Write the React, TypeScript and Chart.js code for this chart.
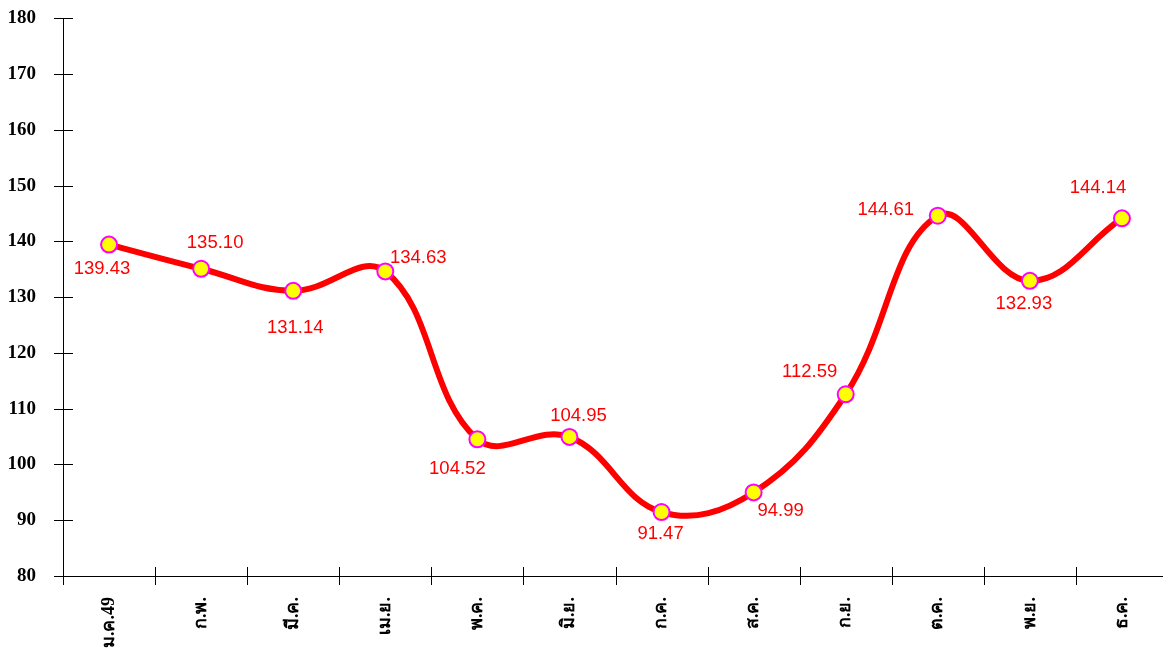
import React, { useEffect, useRef } from "react";
import { Chart, registerables } from "chart.js";

Chart.register(...registerables);

const months = ["ม.ค.49", "ก.พ.", "มี.ค.", "เม.ย.", "พ.ค.", "มิ.ย.", "ก.ค.", "ส.ค.", "ก.ย.", "ต.ค.", "พ.ย.", "ธ.ค."];
const prices = [139.43, 135.10, 131.14, 134.63, 104.52, 104.95, 91.47, 94.99, 112.59, 144.61, 132.93, 144.14];
const yMin = 80;
const yMax = 180;
const yStep = 10;

// label offsets (px) relative to each point – styling only
const labelDx = [-7, 14, 2, 33, -20, 9, -1, 27, -36, -52, -6, -24];
const labelDy = [24, -26, 37, -13, 30, -21, 22, 18, -22, -6, 23, -30];

const W = 1178;
const H = 675;
const SHIFT_Y = -20;

const axisTicksPlugin = {
  id: "axisTicks",
  afterDraw(chart: any) {
    const ctx = chart.ctx;
    const y = chart.scales.y;
    const area = chart.chartArea;
    ctx.save();
    ctx.strokeStyle = "#000000";
    ctx.lineWidth = 1;
    ctx.beginPath();
    ctx.moveTo(Math.round(area.left) + 0.5, area.top);
    ctx.lineTo(Math.round(area.left) + 0.5, area.bottom);
    ctx.moveTo(area.left, Math.round(area.bottom) + 0.5);
    ctx.lineTo(area.right, Math.round(area.bottom) + 0.5);
    ctx.stroke();
    ctx.beginPath();
    for (let v = yMin; v <= yMax; v += yStep) {
      const py = Math.round(y.getPixelForValue(v)) + 0.5;
      ctx.moveTo(area.left - 9, py);
      ctx.lineTo(area.left + 10, py);
    }
    const n = months.length;
    const w = (area.right - area.left) / n;
    for (let i = 0; i <= n; i++) {
      const px = Math.round(area.left + i * w) + 0.5;
      ctx.moveTo(px, area.bottom - 9);
      ctx.lineTo(px, area.bottom + 9);
    }
    ctx.stroke();
    ctx.restore();
  },
};

const valueLabelPlugin = {
  id: "valueLabels",
  afterDatasetsDraw(chart: any) {
    const ctx = chart.ctx;
    const meta = chart.getDatasetMeta(0);
    ctx.save();
    ctx.font = '18.5px "Liberation Sans", Arial, sans-serif';
    ctx.fillStyle = "#ff0000";
    ctx.textAlign = "center";
    ctx.textBaseline = "middle";
    meta.data.forEach((pt: any, i: number) => {
      ctx.fillText(prices[i].toFixed(2), pt.x + labelDx[i], pt.y + labelDy[i]);
    });
    ctx.restore();
  },
};

export default function App() {
  const ref = useRef<HTMLCanvasElement | null>(null);

  useEffect(() => {
    if (!ref.current) return;
    const chart = new Chart(ref.current, {
      type: "line",
      data: {
        labels: months,
        datasets: [
          {
            data: prices,
            borderColor: "#ff0000",
            borderWidth: 6,
            tension: 0.4,
            pointRadius: 8,
            pointHoverRadius: 8,
            pointBackgroundColor: "#ffff00",
            pointBorderColor: "#ff00ff",
            pointBorderWidth: 2,
            fill: false,
          },
        ],
      },
      options: {
        responsive: false,
        animation: false,
        devicePixelRatio: 1,
        layout: { padding: 0 },
        plugins: {
          legend: { display: false },
          tooltip: { enabled: false },
        },
        scales: {
          x: {
            offset: true,
            grid: { display: false, drawTicks: false, offset: true },
            border: { display: false },
            ticks: {
              minRotation: 90,
              maxRotation: 90,
              autoSkip: false,
              padding: 21,
              color: "#000000",
              font: { family: '"Times New Roman", "Liberation Serif", serif', size: 18, weight: "bold" },
            },
            afterFit(scale: any) {
              scale.height = 79;
            },
          },
          y: {
            min: yMin,
            max: yMax,
            grid: { display: false, drawTicks: false },
            border: { display: false },
            ticks: {
              stepSize: yStep,
              padding: 27,
              color: "#000000",
              font: { family: '"Times New Roman", "Liberation Serif", serif', size: 19, weight: "bold" },
            },
            afterFit(scale: any) {
              scale.width = 63;
            },
          },
        },
      },
      plugins: [axisTicksPlugin, valueLabelPlugin],
    });
    return () => chart.destroy();
  }, []);

  return (
    <div style={{ position: "fixed", left: 0, top: 0, width: "100vw", height: "100vh", overflow: "hidden", background: "#ffffff" }}>
      <canvas
        ref={ref}
        width={W}
        height={H}
        style={{ display: "block", position: "absolute", left: 0, top: SHIFT_Y, width: W, height: H }}
      />
    </div>
  );
}
